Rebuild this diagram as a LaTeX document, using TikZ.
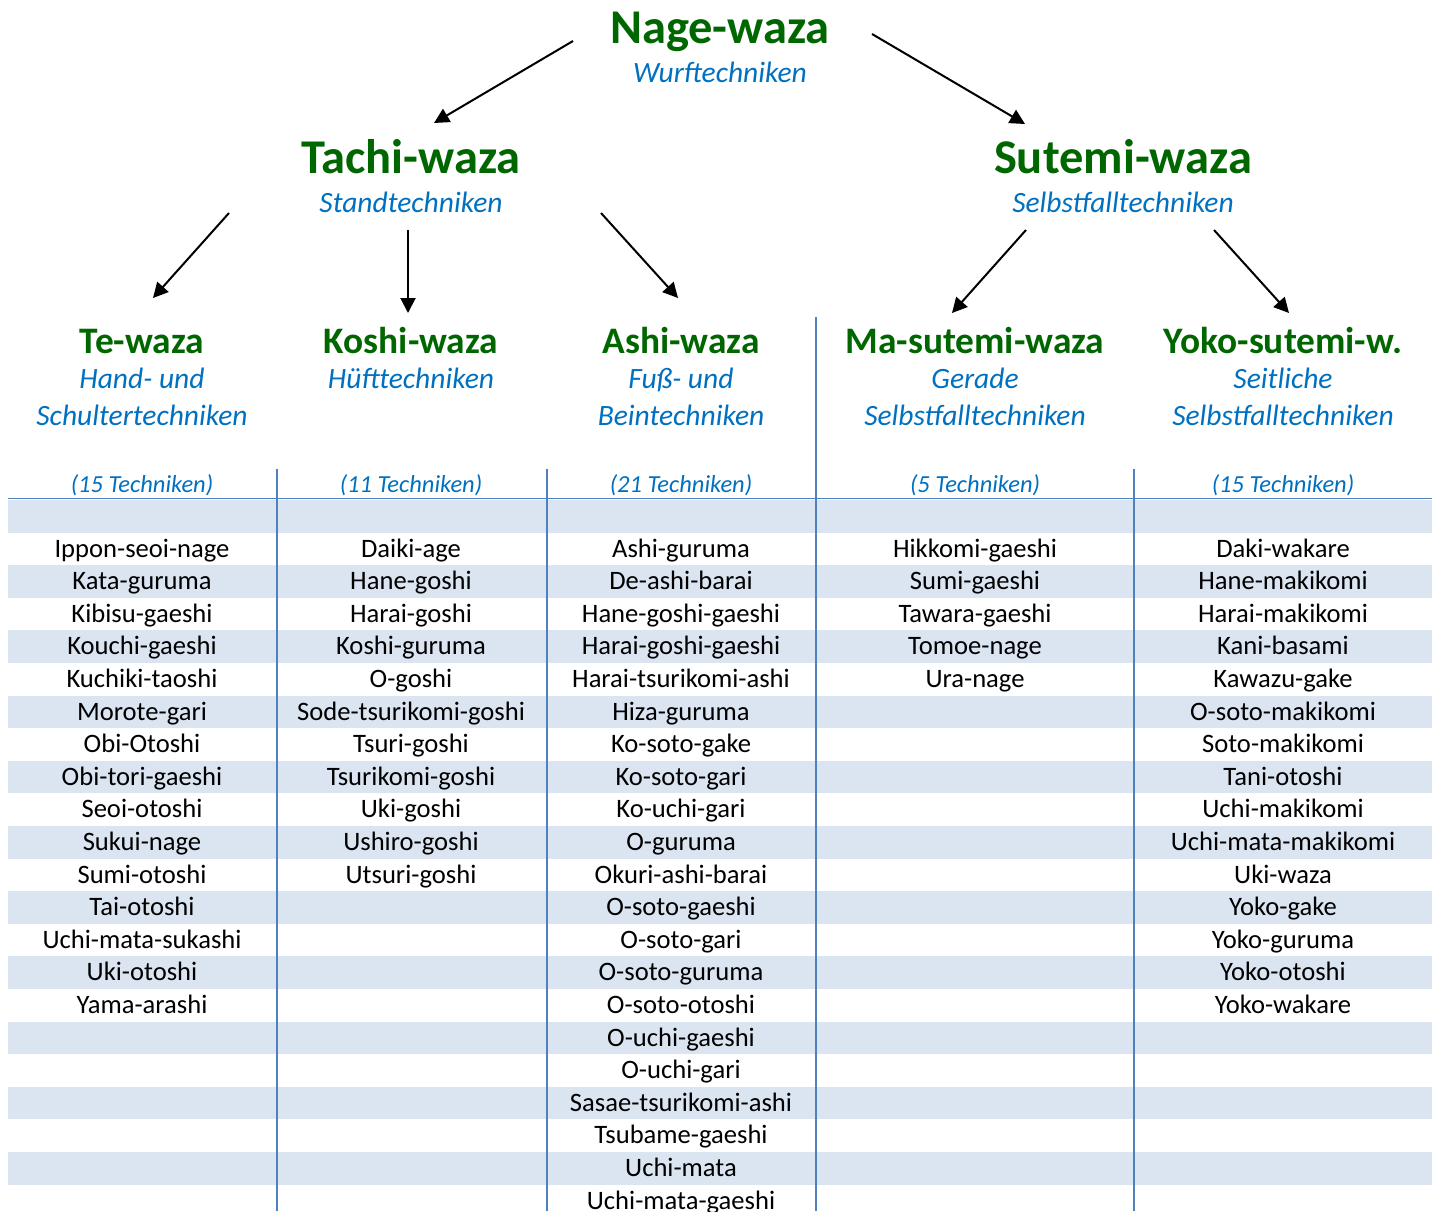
\documentclass[tikz,border=0pt]{standalone}
\usepackage{fontspec}
\setmainfont{Carlito}
\usetikzlibrary{arrows.meta}

\definecolor{wazagreen}{RGB}{0,102,0}
\definecolor{wazablue}{RGB}{0,112,192}
\definecolor{rulebl}{RGB}{79,129,189}
\definecolor{bandbl}{RGB}{219,229,241}

\tikzset{
  topttl/.style={font=\fontsize{48.5}{52}\selectfont\bfseries, text=wazagreen, inner sep=0pt, anchor=base},
  midttl/.style={font=\fontsize{48.5}{52}\selectfont\bfseries, text=wazagreen, inner sep=0pt, anchor=base},
  ttl/.style={font=\fontsize{37.4}{40}\selectfont\bfseries, text=wazagreen, inner sep=0pt, anchor=base},
  sub/.style={font=\fontsize{29.5}{32}\selectfont\itshape, text=wazablue, inner sep=0pt, anchor=base},
  cnt/.style={font=\fontsize{24.5}{28}\selectfont\itshape, text=wazablue, inner sep=0pt, anchor=base},
  entry/.style={font=\fontsize{26.6}{30}\selectfont, inner sep=0pt, anchor=base},
  arr/.style={line width=2pt, -{Triangle[length=15pt,width=15pt]}},
  sep/.style={rulebl, line width=1.8pt},
}

\begin{document}
\begin{tikzpicture}[x=1pt,y=-1pt]
\useasboundingbox (0,0) rectangle (1437,1211);

% shaded rows
\foreach \i in {0,2,...,20}
  \fill[bandbl] (8,{500+32.6*\i}) rectangle (1432,{min(1211,500+32.6*(\i+1))});

% rules
\draw[sep] (8,498.5) -- (1432,498.5);
\foreach \x in {277,547,1134}
  \draw[sep] (\x,469) -- (\x,1211);
\draw[sep] (816,317) -- (816,1211);

% top levels
\node[topttl] (nage) at (720,43) {Nage-waza};
\node[sub] (nage-s) at (720,82) {Wurftechniken};
\node[midttl] (tachi) at (411,173) {Tachi-waza};
\node[sub] (tachi-s) at (411,212) {Standtechniken};
\node[midttl] (sutemi) at (1123,173) {Sutemi-waza};
\node[sub] (sutemi-s) at (1123,212) {Selbstfalltechniken};

% groups
\node[ttl] (te) at (142,353) {Te-waza};
\node[sub] (te-s1) at (142,388) {Hand- und};
\node[sub] (te-s2) at (142,425) {Schultertechniken};
\node[cnt] (te-n) at (142,492) {(15 Techniken)};

\node[ttl] (koshi) at (411,353) {Koshi-waza};
\node[sub] (koshi-s1) at (411,388) {Hüfttechniken};
\node[cnt] (koshi-n) at (411,492) {(11 Techniken)};

\node[ttl] (ashi) at (681,353) {Ashi-waza};
\node[sub] (ashi-s1) at (681,388) {Fuß- und};
\node[sub] (ashi-s2) at (681,425) {Beintechniken};
\node[cnt] (ashi-n) at (681,492) {(21 Techniken)};

\node[ttl] (ma) at (975,353) {Ma-sutemi-waza};
\node[sub] (ma-s1) at (975,388) {Gerade};
\node[sub] (ma-s2) at (975,425) {Selbstfalltechniken};
\node[cnt] (ma-n) at (975,492) {(5 Techniken)};

\node[ttl] (yoko) at (1283,353) {Yoko-sutemi-w.};
\node[sub] (yoko-s1) at (1283,388) {Seitliche};
\node[sub] (yoko-s2) at (1283,425) {Selbstfalltechniken};
\node[cnt] (yoko-n) at (1283,492) {(15 Techniken)};

% arrows
\draw[arr] ([shift={(-147,-2)}]nage.base) -- ([shift={(23,-50)}]tachi.base);
\draw[arr] ([shift={(152,-9)}]nage.base) -- ([shift={(-98,-49)}]sutemi.base);
\draw[arr] ([shift={(-182,40)}]tachi.base) -- ([shift={(11,-55)}]te.base);
\draw[arr] ([shift={(-3,57)}]tachi.base) -- ([shift={(-3,-40)}]koshi.base);
\draw[arr] ([shift={(190,40)}]tachi.base) -- ([shift={(-3,-55)}]ashi.base);
\draw[arr] ([shift={(-97,57)}]sutemi.base) -- ([shift={(-23,-40)}]ma.base);
\draw[arr] ([shift={(91,57)}]sutemi.base) -- ([shift={(6,-40)}]yoko.base);

% techniques
\foreach \t [count=\i] in {Ippon-seoi-nage,Kata-guruma,Kibisu-gaeshi,Kouchi-gaeshi,
  Kuchiki-taoshi,Morote-gari,Obi-Otoshi,Obi-tori-gaeshi,Seoi-otoshi,Sukui-nage,
  Sumi-otoshi,Tai-otoshi,Uchi-mata-sukashi,Uki-otoshi,Yama-arashi}
  \node[entry] (te\i) at (142,{557+32.6*(\i-1)}) {\t};
\foreach \t [count=\i] in {Daiki-age,Hane-goshi,Harai-goshi,Koshi-guruma,O-goshi,
  Sode-tsurikomi-goshi,Tsuri-goshi,Tsurikomi-goshi,Uki-goshi,Ushiro-goshi,Utsuri-goshi}
  \node[entry] (koshi\i) at (411,{557+32.6*(\i-1)}) {\t};
\foreach \t [count=\i] in {Ashi-guruma,De-ashi-barai,Hane-goshi-gaeshi,Harai-goshi-gaeshi,
  Harai-tsurikomi-ashi,Hiza-guruma,Ko-soto-gake,Ko-soto-gari,Ko-uchi-gari,O-guruma,
  Okuri-ashi-barai,O-soto-gaeshi,O-soto-gari,O-soto-guruma,O-soto-otoshi,O-uchi-gaeshi,
  O-uchi-gari,Sasae-tsurikomi-ashi,Tsubame-gaeshi,Uchi-mata,Uchi-mata-gaeshi}
  \node[entry] (ashi\i) at (681,{557+32.6*(\i-1)}) {\t};
\foreach \t [count=\i] in {Hikkomi-gaeshi,Sumi-gaeshi,Tawara-gaeshi,Tomoe-nage,Ura-nage}
  \node[entry] (ma\i) at (975,{557+32.6*(\i-1)}) {\t};
\foreach \t [count=\i] in {Daki-wakare,Hane-makikomi,Harai-makikomi,Kani-basami,
  Kawazu-gake,O-soto-makikomi,Soto-makikomi,Tani-otoshi,Uchi-makikomi,
  Uchi-mata-makikomi,Uki-waza,Yoko-gake,Yoko-guruma,Yoko-otoshi,Yoko-wakare}
  \node[entry] (yoko\i) at (1283,{557+32.6*(\i-1)}) {\t};
\end{tikzpicture}
\end{document}
